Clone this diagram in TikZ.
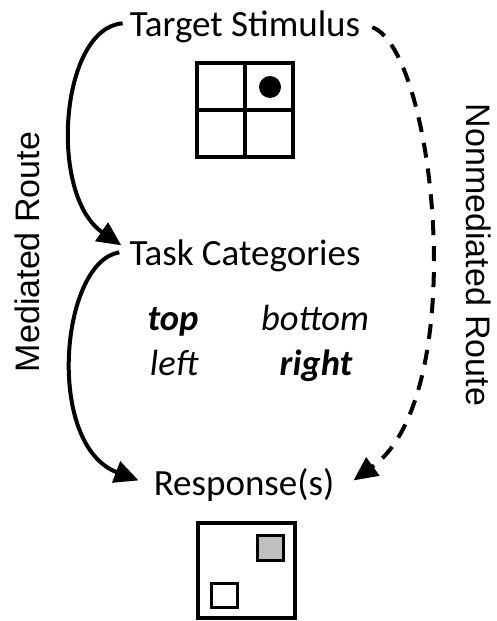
\documentclass[tikz,border=0pt]{standalone}
\usepackage{fontspec}
\setmainfont{Carlito}
\newfontfamily\sidefont{Liberation Sans}
\usetikzlibrary{arrows.meta}
\begin{document}
\begin{tikzpicture}[x=1pt,y=-1pt,
  lbl/.style={font=\fontsize{37}{42}\selectfont, inner sep=0pt, anchor=base},
  word/.style={font=\fontsize{36.5}{42}\selectfont\itshape, inner sep=0pt, anchor=base},
  side/.style={font=\sidefont\fontsize{34}{40}\selectfont, inner sep=0pt},
  route/.style={line width=4pt, -{Triangle[length=24pt,width=22pt]}},
  box/.style={line width=4pt, line join=miter},
]
\useasboundingbox (0,0) rectangle (496,621);
% texts
\node[lbl] (target) at (245,36) {Target Stimulus};
\node[lbl] (task) at (245,265) {Task Categories};
\node[lbl] (resp) at (244,495) {Response(s)};
\node[word] (top) at (173,330) {\bfseries top};
\node[word] (bottom) at (315,330) {bottom};
\node[word] (left) at (174,375) {left};
\node[word] (right) at (316,375) {\bfseries right};
\node[side, rotate=90] (med) at (27,252) {Mediated Route};
\node[side, rotate=-90] (nonmed) at (479,255) {Nonmediated Route};
% stimulus grid
\draw[box] (197,63) rectangle (293,157);
\draw[box] (245,63) -- (245,157);
\draw[box] (197,110) -- (293,110);
\fill (270,87) circle (11);
% response box
\draw[box] (198,523) rectangle (295,618);
\draw[line width=3pt, fill=black!25] (257,535) rectangle (283,560);
\draw[line width=3pt, fill=white] (211,583) rectangle (237,607);
% connectors
\draw[route] ([xshift=-7pt,yshift=3pt]target.west) .. controls (60,28) and (48,195) .. ([xshift=-8pt,yshift=10pt]task.west);
\draw[route] ([xshift=-10pt,yshift=3pt]task.west) .. controls (60,262) and (45,445) .. ([xshift=-15pt,yshift=4pt]resp.west);
\draw[route, dash pattern=on 15pt off 11pt] ([xshift=12pt,yshift=-1pt]target.east) .. controls (435,50) and (472,395) .. ([xshift=19pt,yshift=4pt]resp.east);
\end{tikzpicture}
\end{document}
